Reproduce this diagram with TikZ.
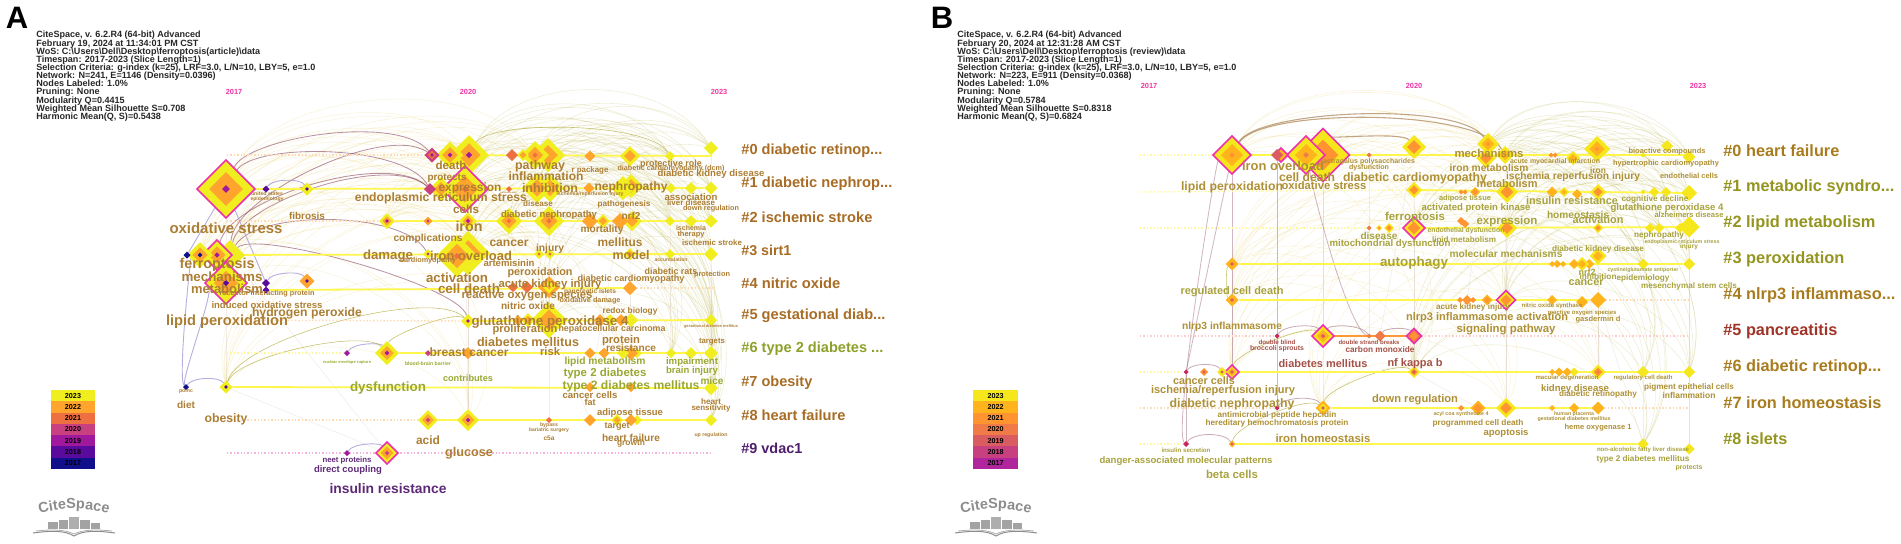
\documentclass[tikz,border=0pt]{standalone}
\usepackage{fontspec}
\usepackage{graphicx}
\setmainfont{Liberation Sans}
\usetikzlibrary{calc,shapes.geometric,decorations.text}
\pgfdeclarelayer{back}
\pgfsetlayers{back,main}

\definecolor{y23}{HTML}{F0EE1E}
\definecolor{o22}{HTML}{FFA42C}
\definecolor{r21}{HTML}{EE7040}
\definecolor{p20}{HTML}{C84080}
\definecolor{m19}{HTML}{A0189C}
\definecolor{v18}{HTML}{5A0A9C}
\definecolor{n17}{HTML}{10108C}
\definecolor{by23}{HTML}{F6E61C}
\definecolor{bo22}{HTML}{FFB41E}
\definecolor{bo21}{HTML}{FF9430}
\definecolor{br20}{HTML}{F07A48}
\definecolor{br19}{HTML}{D85C60}
\definecolor{bp18}{HTML}{C84080}
\definecolor{bm17}{HTML}{B0249C}
\definecolor{crim}{HTML}{C8285C}
\definecolor{hubring}{HTML}{EE30B0}
\definecolor{kwbrown}{HTML}{AC7E34}
\definecolor{kwgreen}{HTML}{9AA832}
\definecolor{kwpurple}{HTML}{5E2A78}
\definecolor{kwgold}{HTML}{AE9036}
\definecolor{kwolive}{HTML}{A8A23E}
\definecolor{kwred}{HTML}{A45048}
\definecolor{logogrey}{HTML}{8C8C8C}
\definecolor{rowbrown}{HTML}{A86C24}
\definecolor{rowgreen}{HTML}{8DA02A}
\definecolor{rowpurple}{HTML}{4E1E6C}
\definecolor{rowgold}{HTML}{A87C1E}
\definecolor{rowolive}{HTML}{949420}
\definecolor{rowred}{HTML}{A03428}
\definecolor{edgemv}{HTML}{8A4A68}
\definecolor{edgeli}{HTML}{A8A0D8}
\definecolor{edgebr}{HTML}{B08A60}

\newcommand{\infofont}{\bfseries\fontsize{4.53}{4.07}\selectfont\lineskiplimit=-5pt\relax}
\tikzset{
  dmd/.style={shape=diamond,aspect=1,inner sep=0pt,outer sep=0pt},
  ring/.style={draw=hubring,line width=.75pt},
  kw/.style={inner sep=0pt,font=\bfseries},
  kwa/.style={kw,text=kwbrown},
  kwg/.style={kw,text=kwgreen},
  kwp/.style={kw,text=kwpurple},
  kwb/.style={kw,text=kwgold},
  kwo/.style={kw,text=kwolive},
  kwr/.style={kw,text=kwred},
  rowlab/.style={kw,anchor=west},
  yearlab/.style={inner sep=0pt,font=\bfseries\fontsize{3.7}{4}\selectfont,text=magenta!80!white},
  infotxt/.style={inner sep=0pt,anchor=north west,align=left,text=black!85,font=\infofont},
  lgbox/.style={inner sep=0pt,minimum height=5.65pt,font=\bfseries\fontsize{3.6}{4}\selectfont},
  liverow/.style={draw=yellow!70!white,line width=.9pt},
  deadrow/.style={draw=#1,line width=.7pt,dash pattern=on .7pt off 1pt},
  edgetan/.style={draw=brown!55!yellow!70!white,line width=.3pt,opacity=.22},
  edgeolive/.style={draw=olive!70!white,line width=.3pt,opacity=.2},
  edgegrey/.style={draw=black!30!brown!40!white,line width=.3pt,opacity=.28},
  edgemauve/.style={draw=edgemv,line width=.42pt,opacity=.6},
  edgelilac/.style={draw=edgeli,line width=.45pt,opacity=.85},
  edgebrown/.style={draw=edgebr,line width=.55pt,opacity=.75},
  arcto/.style={to path={.. controls ($(\tikztostart)!#1!60:(\tikztotarget)$)
    and ($(\tikztotarget)!#1!-60:(\tikztostart)$) .. (\tikztotarget)}},
  citelogo/.pic={
    \path[decorate,decoration={text along path,text align=center,
      text={|\bfseries\fontsize{7.2}{8}\selectfont\color{logogrey}|CiteSpace}}]
      (-36,-16) .. controls (-14,-23) and (14,-23) .. (36,-16);
    \fill[logogrey!80] (-26,-8) rectangle (-16,-1);
    \fill[logogrey!80] (-15,-10) rectangle (-6,-1);
    \fill[logogrey!70] (-5,-13) rectangle (5,-1);
    \fill[logogrey!80] (6,-10) rectangle (16,-1);
    \fill[logogrey!80] (17,-7) rectangle (26,-1);
    \draw[logogrey,line width=.5pt] (-41,3) .. controls (-20,0) and (-8,1) .. (0,6)
      .. controls (8,1) and (20,0) .. (41,3);
    \draw[logogrey!70,line width=.4pt] (-38,1) .. controls (-20,-1) and (-8,0) .. (0,4)
      .. controls (8,0) and (20,-1) .. (38,1);
  }
}
\newdimen\pxu
\pxu=0.5pt
\newcommand{\fitw}[2]{\resizebox{#1\pxu}{!}{#2}}
% [ring] name x y width outer mid core
\newcommand{\kwnode}[8][]{%
  \node (#2) [dmd,fill=#6,minimum size=#5*0.5pt,#1] at (#3,#4) {};
  \node (#2m) [dmd,fill=#7,minimum size=#5*0.29pt] at (#2) {};
  \node (#2c) [dmd,fill=#8,minimum size=(2.5+0.09*#5)*0.5pt] at (#2) {};
}

\begin{document}
\begin{tikzpicture}[x=0.5pt,y=-0.5pt]
  \useasboundingbox (0,0) rectangle (1901,543);

  % panel A head
  \node (a_title) [inner sep=0pt,font=\bfseries\fontsize{15.5}{16}\selectfont] at (17,18) {A};
  \node (a_info) [infotxt] at (36,31) {CiteSpace, v. 6.2.R4 (64-bit) Advanced\\
    February 19, 2024 at 11:34:01 PM CST\\
    WoS: C:\textbackslash Users\textbackslash Dell\textbackslash Desktop\textbackslash ferroptosis(article)\textbackslash data\\
    Timespan: 2017-2023 (Slice Length=1)\\
    Selection Criteria: g-index (k=25), LRF=3.0, L/N=10, LBY=5, e=1.0\\
    Network: N=241, E=1146 (Density=0.0396)\\
    Nodes Labeled: 1.0\%\\
    Pruning: None\\
    Modularity Q=0.4415\\
    Weighted Mean Silhouette S=0.708\\
    Harmonic Mean(Q, S)=0.5438};
  \node (a_y17) [yearlab] at (234,92) {2017};
  \node (a_y20) [yearlab] at (468,92) {2020};
  \node (a_y23) [yearlab] at (719,92) {2023};

  % panel A legend
  \foreach \yr/\col [count=\i from 0] in {2023/y23,2022/o22,2021/r21,2020/p20,2019/m19,2018/v18,2017/n17}
    \node (a_lg\yr) [lgbox,fill=\col,minimum width=22pt] at (73,395.6+11.3*\i) {\yr};
  \pic (a_logo) at (74,530) {citelogo};

  % panel A row 0
  \coordinate (a0s) at (227,155);
  \coordinate (a0z) at (712,156);
  \kwnode{a0k}{711}{148}{14}{y23}{none}{none}
  \kwnode{a0j}{670}{156}{10}{y23}{none}{none}
  \kwnode{a0i}{630}{156}{20}{y23}{o22}{o22}
  \kwnode{a0h}{590}{156}{11}{o22}{none}{none}
  \kwnode{a0g}{548}{155}{34}{y23}{o22}{none}
  \kwnode{a0f}{535}{155}{28}{y23}{o22}{r21}
  \kwnode{a0e}{523}{155}{12}{y23}{o22}{none}
  \kwnode{a0d}{512}{155}{12}{r21}{none}{none}
  \kwnode{a0c}{469}{155}{40}{y23}{o22}{m19}
  \kwnode{a0b}{450}{155}{27}{y23}{o22}{m19}
  \kwnode{a0a}{432}{155}{15}{p20}{r21}{m19}
  % panel A row 1
  \kwnode{a1o}{711}{188}{13}{y23}{none}{none}
  \kwnode{a1n}{691}{188}{12}{y23}{none}{none}
  \kwnode{a1m}{671}{188}{10}{y23}{none}{none}
  \kwnode{a1l}{631}{186}{24}{y23}{o22}{none}
  \kwnode{a1k}{623}{188}{24}{y23}{none}{none}
  \kwnode{a1j}{589}{188}{11}{o22}{none}{none}
  \kwnode{a1i}{550}{188}{28}{y23}{o22}{none}
  \kwnode{a1h}{537}{188}{30}{y23}{o22}{none}
  \kwnode{a1g}{509}{189}{6}{r21}{none}{none}
  \kwnode[ring]{a1f}{465}{189}{46}{y23}{o22}{r21}
  \kwnode{a1e}{441}{189}{24}{y23}{o22}{none}
  \kwnode{a1d}{430}{189}{12}{p20}{none}{none}
  \kwnode{a1c}{307}{189}{13}{y23}{none}{v18}
  \kwnode{a1b}{266}{189}{7}{v18}{none}{none}
  \kwnode[ring]{a1a}{226}{189}{58}{y23}{o22}{m19}
  % panel A row 2
  \coordinate (a2s) at (227,221);
  \kwnode{a2l}{711}{221}{13}{y23}{none}{none}
  \kwnode{a2k}{691}{221}{12}{y23}{none}{none}
  \kwnode{a2j}{670}{221}{10}{y23}{none}{none}
  \kwnode{a2i}{632}{221}{20}{y23}{o22}{o22}
  \kwnode{a2h}{620}{221}{16}{o22}{none}{none}
  \kwnode{a2g}{603}{221}{14}{y23}{o22}{none}
  \kwnode{a2f}{590}{221}{16}{o22}{none}{none}
  \kwnode{a2e}{549}{221}{30}{y23}{o22}{r21}
  \kwnode{a2d}{509}{221}{26}{y23}{o22}{r21}
  \kwnode{a2c}{468}{221}{18}{y23}{o22}{m19}
  \kwnode{a2b}{428}{221}{9}{o22}{none}{p20}
  \kwnode{a2a}{387}{221}{16}{y23}{o22}{m19}
  % panel A row 3
  \kwnode{a3l}{711}{254}{14}{y23}{none}{none}
  \kwnode{a3k}{670}{254}{10}{y23}{none}{none}
  \kwnode{a3j}{630}{254}{12}{y23}{o22}{none}
  \kwnode{a3i}{550}{254}{10}{y23}{none}{r21}
  \kwnode{a3h}{539}{254}{10}{y23}{none}{r21}
  \kwnode{a3g}{468}{253}{44}{y23}{o22}{none}
  \kwnode{a3f}{457}{256}{42}{y23}{o22}{r21}
  \kwnode{a3e}{428}{254}{10}{y23}{none}{p20}
  \kwnode{a3d}{230}{255}{30}{y23}{none}{none}
  \kwnode[ring]{a3c}{217}{255}{30}{y23}{o22}{m19}
  \kwnode{a3b}{200}{255}{26}{y23}{o22}{n17}
  \kwnode{a3a}{187}{255}{7}{n17}{none}{none}
  % panel A row 4
  \coordinate (a4z) at (712,288);
  \kwnode{a4h}{630}{288}{14}{o22}{none}{none}
  \kwnode{a4g}{549}{287}{22}{o22}{y23}{o22}
  \kwnode{a4f}{527}{287}{12}{r21}{none}{none}
  \kwnode{a4e}{513}{287}{10}{r21}{none}{none}
  \kwnode{a4d}{307}{281}{15}{o22}{none}{v18}
  \kwnode{a4c}{266}{290}{7}{v18}{none}{none}
  \kwnode{a4b}{266}{283}{8}{v18}{none}{none}
  \kwnode[ring]{a4a}{226}{283}{42}{y23}{o22}{v18}
  % panel A row 5
  \coordinate (a5s) at (227,320);
  \kwnode{a5i}{711}{320}{12}{y23}{none}{none}
  \kwnode{a5h}{631}{320}{14}{y23}{none}{none}
  \kwnode{a5g}{621}{320}{12}{o22}{none}{none}
  \kwnode{a5f}{610}{320}{12}{y23}{none}{none}
  \kwnode{a5e}{600}{320}{12}{o22}{none}{none}
  \kwnode{a5d}{549}{320}{36}{y23}{o22}{o22}
  \kwnode{a5c}{528}{320}{14}{y23}{o22}{none}
  \kwnode{a5b}{518}{320}{10}{o22}{none}{none}
  \kwnode{a5a}{468}{321}{14}{y23}{none}{m19}
  % panel A row 6
  \coordinate (a6s) at (227,353);
  \kwnode{a6l}{711}{353}{14}{y23}{none}{none}
  \kwnode{a6k}{691}{353}{12}{y23}{none}{none}
  \kwnode{a6j}{671}{353}{10}{y23}{none}{none}
  \kwnode{a6i}{637}{353}{10}{y23}{none}{none}
  \kwnode{a6h}{631}{353}{14}{o22}{none}{none}
  \kwnode{a6g}{623}{353}{12}{y23}{none}{none}
  \kwnode{a6f}{604}{353}{11}{o22}{none}{none}
  \kwnode{a6e}{590}{353}{11}{o22}{none}{none}
  \kwnode{a6d}{468}{353}{12}{o22}{none}{none}
  \kwnode{a6c}{428}{353}{6}{p20}{none}{none}
  \kwnode{a6b}{387}{353}{24}{y23}{o22}{m19}
  \kwnode{a6a}{347}{353}{6}{m19}{none}{none}
  % panel A row 7
  \kwnode{a7e}{711}{388}{14}{y23}{none}{none}
  \kwnode{a7d}{631}{387}{10}{o22}{none}{none}
  \kwnode{a7c}{590}{387}{10}{o22}{none}{none}
  \kwnode{a7b}{226}{387}{13}{y23}{none}{v18}
  \kwnode{a7a}{186}{387}{6}{n17}{none}{none}
  % panel A row 8
  \coordinate (a8s) at (227,420);
  \kwnode{a8h}{711}{420}{12}{y23}{none}{none}
  \kwnode{a8g}{637}{420}{10}{y23}{none}{none}
  \kwnode{a8f}{631}{420}{12}{o22}{none}{none}
  \kwnode{a8e}{617}{420}{12}{y23}{o22}{none}
  \kwnode{a8d}{590}{420}{12}{o22}{none}{none}
  \kwnode{a8c}{549}{420}{6}{r21}{none}{none}
  \kwnode{a8b}{468}{420}{22}{y23}{o22}{m19}
  \kwnode{a8a}{428}{420}{20}{y23}{o22}{p20}
  % panel A row 9
  \coordinate (a9s) at (227,453);
  \coordinate (a9z) at (712,453);
  \kwnode[ring]{a9b}{387}{453}{22}{y23}{o22}{p20}
  \kwnode{a9a}{347}{453}{6}{m19}{none}{none}

  \begin{pgfonlayer}{back}
    \foreach \a in {a1a,a3d,a3b,a4a,a7b,a2a}
      \foreach \b in {a0c,a0f,a1f,a1h,a2d,a2e,a3g,a3h,a5d,a6g,a8b}
        \draw[edgetan] (\a) to[arcto=.34] (\b);
    \foreach \a in {a0c,a1f,a0f,a3g,a2d,a2e,a5d,a1h}
      \foreach \b in {a0j,a0k,a1m,a1o,a2j,a2l,a3l,a5i,a6l,a6j,a7e,a8h}
        \draw[edgeolive] (\a) to[arcto=.38] (\b);
    \foreach \a/\b in {a1f/a8b,a0c/a5a,a2c/a5a,a3g/a6d,a5a/a8b,a6d/a8b,a1h/a6g,a2e/a8c,a0i/a3j,a3j/a6h,
      a0j/a6j,a0k/a2l,a1a/a7b,a3h/a5d,a2d/a5c,a4g/a6g,a3d/a9b,a7b/a9b,a5d/a8d,a0f/a3h,a1j/a4g,a2h/a7c,a4h/a8f,a3k/a6j,a3l/a7e}
      \draw[edgegrey] (\a) -- (\b);
    \foreach \a/\b in {a1a/a0a,a1a/a1d,a3d/a0a,a3d/a1d,a3c/a1d,a3d/a3e}
      \draw[edgemauve] (\a) to[arcto=.26] (\b);
    \draw[edgemauve] (a3d) to[arcto=.15] (a5a);
    \foreach \a/\b in {a7a/a3b,a7a/a4a}
      \draw[edgelilac] (\a) to[arcto=.08] (\b);
    \foreach \a/\b in {a7a/a7b,a1b/a1c,a4b/a4d,a9a/a9b,a6a/a6b}
      \draw[edgelilac] (\a) to[arcto=.3] (\b);
    \draw[edgelilac] (a1a) -- (a3a);
    \draw[edgelilac] (a1a) -- (a4b);
    \foreach \a/\b in {a6b/a5a,a7b/a6b,a7b/a5a,a0c/a0j}
      \draw[edgeolive,opacity=.7] (\a) to[arcto=.2] (\b);

    \draw[deadrow=orange!30!white] (a0s) -- (a0a);
    \draw[deadrow=orange!30!white] (a2s) -- (a2a);
    \draw[deadrow=orange!30!white] (a5s) -- (a5a);
    \draw[deadrow=yellow!40!white] (a6s) -- (a6a);
    \draw[deadrow=orange!30!white] (a8s) -- (a8a);
    \draw[deadrow=orange!30!white] (a4h) -- (a4z);
    \draw[deadrow=magenta!30!white] (a9s) -- (a9z);
    \draw[liverow] (a0a) -- (a0z);
    \draw[liverow] (a1a) -- (a1o);
    \draw[liverow] (a2a) -- (a2l);
    \draw[liverow] (a3a) -- (a3l);
    \draw[liverow] (a4c) -- (a4h);
    \draw[liverow] (a5a) -- (a5i);
    \draw[liverow] (a6b) -- (a6l);
    \draw[liverow] (a7b) -- (a7e);
    \draw[liverow] (a8a) -- (a8h);
  \end{pgfonlayer}

  % panel A keywords
  \node (a_oxstress) [kwa] at (226,228) {\fitw{113}{oxidative stress}};
  \node (a_fibrosis) [kwa] at (307,216) {\fitw{36}{fibrosis}};
  \node (a_ers) [kwa] at (441,198) {\fitw{172}{endoplasmic reticulum stress}};
  \node (a_death) [kwa] at (451,165) {\fitw{31}{death}};
  \node (a_protects) [kwa] at (447,178) {\fitw{39}{protects}};
  \node (a_expression) [kwa] at (470,188) {\fitw{63}{expression}};
  \node (a_cells) [kwa] at (466,209) {\fitw{26}{cells}};
  \node (a_iron) [kwa] at (469,226) {\fitw{27}{iron}};
  \node (a_complic) [kwa] at (428,239) {\fitw{69}{complications}};
  \node (a_cancer) [kwa] at (509,243) {\fitw{39}{cancer}};
  \node (a_injury) [kwa] at (550,249) {\fitw{28}{injury}};
  \node (a_damage) [kwa] at (388,256) {\fitw{50}{damage}};
  \node (a_ironover) [kwa] at (471,256) {\fitw{82}{iron overload}};
  \node (a_cardio) [kwa] at (428,261) {\fitw{56}{cardiomyopathy}};
  \node (a_artemis) [kwa] at (509,263) {\fitw{51}{artemisinin}};
  \node (a_activ) [kwa] at (457,278) {\fitw{62}{activation}};
  \node (a_celldeath) [kwa] at (469,289) {\fitw{62}{cell death}};
  \node (a_perox) [kwa] at (540,273) {\fitw{65}{peroxidation}};
  \node (a_aki) [kwa] at (550,285) {\fitw{103}{acute kidney injury}};
  \node (a_ros) [kwa] at (527,296) {\fitw{131}{reactive oxygen species}};
  \node (a_nitric) [kwa] at (528,306) {\fitw{54}{nitric oxide}};
  \node (a_gpx) [kwa] at (550,322) {\fitw{157}{glutathione peroxidase 4}};
  \node (a_prolif) [kwa] at (525,330) {\fitw{65}{proliferation}};
  \node (a_hepato) [kwa] at (612,329) {\fitw{107}{hepatocellular carcinoma}};
  \node (a_dm) [kwa] at (528,342) {\fitw{102}{diabetes mellitus}};
  \node (a_risk) [kwa] at (550,351) {\fitw{20}{risk}};
  \node (a_breast) [kwa] at (469,352) {\fitw{79}{breast cancer}};
  \node (a_protein) [kwa] at (621,341) {\fitw{38}{protein}};
  \node (a_resist) [kwa] at (631,348) {\fitw{50}{resistance}};
  \node (a_lipmet) [kwg] at (605,362) {\fitw{81}{lipid metabolism}};
  \node (a_t2d) [kwg] at (605,374) {\fitw{83}{type 2 diabetes}};
  \node (a_t2dm) [kwg] at (631,386) {\fitw{137}{type 2 diabetes mellitus}};
  \node (a_cancercells) [kwa] at (590,395) {\fitw{55}{cancer cells}};
  \node (a_fat) [kwa] at (590,402) {\fitw{11}{fat}};
  \node (a_adipose) [kwa] at (630,413) {\fitw{66}{adipose tissue}};
  \node (a_target) [kwa] at (617,427) {\fitw{25}{target}};
  \node (a_hf) [kwa] at (631,438) {\fitw{58}{heart failure}};
  \node (a_growth) [kwa] at (631,443) {\fitw{28}{growth}};
  \node (a_bypass) [kwa] at (549,425) {\fitw{18}{bypass}};
  \node (a_bariatric) [kwa] at (549,430) {\fitw{40}{bariatric surgery}};
  \node (a_c5a) [kwa] at (549,438) {\fitw{11}{c5a}};
  \node (a_upreg) [kwa] at (711,435) {\fitw{33}{up regulation}};
  \node (a_heart) [kwa] at (711,402) {\fitw{20}{heart}};
  \node (a_sens) [kwa] at (711,408) {\fitw{39}{sensitivity}};
  \node (a_mice) [kwg] at (712,381) {\fitw{23}{mice}};
  \node (a_targets) [kwa] at (712,342) {\fitw{26}{targets}};
  \node (a_impair) [kwg] at (692,362) {\fitw{52}{impairment}};
  \node (a_brain) [kwg] at (692,371) {\fitw{52}{brain injury}};
  \node (a_gdm) [kwa] at (711,326) {\fitw{54}{gestational diabetes mellitus}};
  \node (a_redox) [kwa] at (630,311) {\fitw{55}{redox biology}};
  \node (a_oxdam) [kwa] at (590,301) {\fitw{61}{oxidative damage}};
  \node (a_panc) [kwa] at (590,292) {\fitw{52}{pancreatic islets}};
  \node (a_dcm) [kwa] at (631,279) {\fitw{107}{diabetic cardiomyopathy}};
  \node (a_rats) [kwa] at (671,271) {\fitw{53}{diabetic rats}};
  \node (a_protection) [kwa] at (712,275) {\fitw{36}{protection}};
  \node (a_accum) [kwa] at (671,260) {\fitw{33}{accumulation}};
  \node (a_stroke) [kwa] at (712,243) {\fitw{60}{ischemic stroke}};
  \node (a_therapy) [kwa] at (691,235) {\fitw{27}{therapy}};
  \node (a_ischemia) [kwa] at (691,228) {\fitw{30}{ischemia}};
  \node (a_model) [kwa] at (631,255) {\fitw{37}{model}};
  \node (a_mellitus) [kwa] at (620,242) {\fitw{45}{mellitus}};
  \node (a_mortal) [kwa] at (602,230) {\fitw{43}{mortality}};
  \node (a_nrf2) [kwa] at (631,216) {\fitw{19}{nrf2}};
  \node (a_dn) [kwa] at (549,215) {\fitw{96}{diabetic nephropathy}};
  \node (a_patho) [kwa] at (624,204) {\fitw{53}{pathogenesis}};
  \node (a_disease) [kwa] at (538,204) {\fitw{30}{disease}};
  \node (a_downreg) [kwa] at (711,209) {\fitw{56}{down regulation}};
  \node (a_liver) [kwa] at (691,203) {\fitw{48}{liver disease}};
  \node (a_assoc) [kwa] at (691,197) {\fitw{53}{association}};
  \node (a_irinj) [kwa] at (590,194) {\fitw{67}{ischemia/reperfusion injury}};
  \node (a_cardiov) [kwa] at (508,193) {\fitw{16}{cardiovascular}};
  \node (a_inhib) [kwa] at (550,188) {\fitw{56}{inhibition}};
  \node (a_nephro) [kwa] at (631,187) {\fitw{73}{nephropathy}};
  \node (a_inflam) [kwa] at (546,176) {\fitw{75}{inflammation}};
  \node (a_pathway) [kwa] at (540,166) {\fitw{50}{pathway}};
  \node (a_rpack) [kwa] at (590,170) {\fitw{37}{r package}};
  \node (a_protrole) [kwa] at (671,164) {\fitw{62}{protective role}};
  \node (a_dcmfull) [kwa] at (671,169) {\fitw{107}{diabetic cardiomyopathy (dcm)}};
  \node (a_dkd) [kwa] at (711,174) {\fitw{107}{diabetic kidney disease}};
  \node (a_ferro) [kwa] at (217,265) {\fitw{75}{ferroptosis}};
  \node (a_usa) [kwa] at (267,194) {\fitw{32}{united states}};
  \node (a_epid) [kwa] at (267,199) {\fitw{33}{epidemiology}};
  \node (a_mech) [kwa] at (222,277) {\fitw{81}{mechanisms}};
  \node (a_metab) [kwa] at (227,289) {\fitw{72}{metabolism}};
  \node (a_rip) [kwa] at (267,294) {\fitw{95}{receptor interacting protein}};
  \node (a_induced) [kwa] at (267,305) {\fitw{111}{induced oxidative stress}};
  \node (a_hydro) [kwa] at (307,313) {\fitw{110}{hydrogen peroxide}};
  \node (a_lipper) [kwa] at (227,322) {\fitw{122}{lipid peroxidation}};
  \node (a_nuclear) [kwg] at (347,362) {\fitw{48}{nuclear envelope rupture}};
  \node (a_bbb) [kwg] at (428,364) {\fitw{46}{blood-brain barrier}};
  \node (a_contrib) [kwg] at (468,378) {\fitw{50}{contributes}};
  \node (a_dysf) [kwg] at (388,388) {\fitw{76}{dysfunction}};
  \node (a_pomc) [kwa] at (186,392) {\fitw{14}{pomc}};
  \node (a_diet) [kwa] at (186,405) {\fitw{18}{diet}};
  \node (a_obesity) [kwa] at (226,419) {\fitw{43}{obesity}};
  \node (a_acid) [kwa] at (428,440) {\fitw{24}{acid}};
  \node (a_glucose) [kwa] at (469,453) {\fitw{48}{glucose}};
  \node (a_neet) [kwp] at (347,460) {\fitw{49}{neet proteins}};
  \node (a_direct) [kwp] at (348,470) {\fitw{68}{direct coupling}};
  \node (a_insres) [kwp] at (388,489) {\fitw{117}{insulin resistance}};

  % panel A cluster names
  \node (a_c0) [rowlab,text=rowbrown] at (741,151) {\fitw{141}{\#0 diabetic retinop...}};
  \node (a_c1) [rowlab,text=rowbrown] at (741,184) {\fitw{151}{\#1 diabetic nephrop...}};
  \node (a_c2) [rowlab,text=rowbrown] at (741,217) {\fitw{131}{\#2 ischemic stroke}};
  \node (a_c3) [rowlab,text=rowbrown] at (741,250) {\fitw{50}{\#3 sirt1}};
  \node (a_c4) [rowlab,text=rowbrown] at (741,283) {\fitw{99}{\#4 nitric oxide}};
  \node (a_c5) [rowlab,text=rowbrown] at (741,316) {\fitw{144}{\#5 gestational diab...}};
  \node (a_c6) [rowlab,text=rowgreen] at (741,349) {\fitw{142}{\#6 type 2 diabetes ...}};
  \node (a_c7) [rowlab,text=rowbrown] at (741,383) {\fitw{71}{\#7 obesity}};
  \node (a_c8) [rowlab,text=rowbrown] at (741,415) {\fitw{104}{\#8 heart failure}};
  \node (a_c9) [rowlab,text=rowpurple] at (741,448) {\fitw{61}{\#9 vdac1}};

  % panel B head
  \node (b_title) [inner sep=0pt,font=\bfseries\fontsize{15.5}{16}\selectfont] at (942,18) {B};
  \node (b_info) [infotxt] at (957,31) {CiteSpace, v. 6.2.R4 (64-bit) Advanced\\
    February 20, 2024 at 12:31:28 AM CST\\
    WoS: C:\textbackslash Users\textbackslash Dell\textbackslash Desktop\textbackslash ferroptosis (review)\textbackslash data\\
    Timespan: 2017-2023 (Slice Length=1)\\
    Selection Criteria: g-index (k=25), LRF=3.0, L/N=10, LBY=5, e=1.0\\
    Network: N=223, E=911 (Density=0.0368)\\
    Nodes Labeled: 1.0\%\\
    Pruning: None\\
    Modularity Q=0.5784\\
    Weighted Mean Silhouette S=0.8318\\
    Harmonic Mean(Q, S)=0.6824};
  \node (b_y17) [yearlab] at (1149,86) {2017};
  \node (b_y20) [yearlab] at (1414,86) {2020};
  \node (b_y23) [yearlab] at (1698,86) {2023};

  % panel B legend
  \foreach \yr/\col [count=\i from 0] in {2023/by23,2022/bo22,2021/bo21,2020/br20,2019/br19,2018/bp18,2017/bm17}
    \node (b_lg\yr) [lgbox,fill=\col,minimum width=22.5pt] at (995.5,395.6+11.3*\i) {\yr};
  \pic (b_logo) at (996,530) {citelogo};

  % panel B row 0
  \coordinate (b0s) at (1140,155);
  \coordinate (b0z) at (1693,155);
  \kwnode{b0q}{1689}{157}{13}{by23}{none}{none}
  \kwnode{b0p}{1667}{146}{12}{by23}{none}{none}
  \kwnode{b0o}{1643}{155}{5}{by23}{none}{none}
  \kwnode{b0n}{1597}{149}{26}{by23}{bo22}{bo21}
  \kwnode{b0m}{1573}{158}{14}{by23}{bo22}{none}
  \kwnode{b0l}{1555}{155}{5}{bo21}{none}{none}
  \kwnode{b0k}{1551}{155}{5}{bo21}{none}{none}
  \kwnode{b0j}{1505}{155}{18}{by23}{bo22}{none}
  \kwnode{b0i}{1486}{158}{20}{by23}{bo21}{bo21}
  \kwnode{b0h}{1488}{144}{22}{by23}{bo22}{bo21}
  \kwnode{b0g}{1414}{147}{24}{by23}{bo21}{bo21}
  \kwnode{b0f}{1369}{155}{5}{br20}{none}{none}
  \kwnode[ring]{b0e}{1323}{155}{53}{by23}{bo21}{bo21}
  \kwnode[ring]{b0d}{1306}{155}{38}{by23}{bo22}{br20}
  \kwnode[ring]{b0c}{1281}{155}{14}{bo22}{none}{none}
  \kwnode{b0b}{1277}{155}{12}{br19}{none}{none}
  \kwnode[ring]{b0a}{1232}{155}{38}{by23}{bo22}{bo21}
  % panel B row 1
  \coordinate (b1s) at (1140,192);
  \kwnode{b1m}{1689}{193}{16}{by23}{none}{none}
  \kwnode{b1l}{1666}{192}{10}{by23}{none}{none}
  \kwnode{b1k}{1654}{192}{10}{by23}{none}{none}
  \kwnode{b1j}{1643}{192}{5}{by23}{none}{none}
  \kwnode{b1i}{1598}{192}{16}{by23}{bo21}{bo21}
  \kwnode{b1h}{1577}{194}{10}{bo22}{none}{none}
  \kwnode{b1g}{1564}{192}{10}{by23}{bo22}{none}
  \kwnode{b1f}{1552}{192}{11}{bo22}{none}{none}
  \kwnode{b1e}{1507}{192}{22}{by23}{bo21}{bo21}
  \kwnode{b1d}{1475}{192}{10}{bo22}{bo21}{none}
  \kwnode{b1c}{1465}{192}{5}{bo21}{none}{none}
  \kwnode{b1b}{1461}{192}{5}{bo21}{none}{none}
  \kwnode{b1a}{1414}{190}{16}{by23}{bo21}{bo21}
  % panel B row 2
  \coordinate (b2s) at (1140,228);
  \kwnode{b2l}{1689}{227}{21}{by23}{none}{none}
  \kwnode{b2k}{1680}{228}{10}{by23}{none}{none}
  \kwnode{b2j}{1659}{228}{10}{by23}{none}{none}
  \kwnode{b2i}{1650}{228}{10}{by23}{none}{none}
  \kwnode{b2h}{1598}{228}{10}{by23}{bo21}{bo21}
  \kwnode{b2g}{1507}{228}{20}{by23}{bo21}{bo21}
  \kwnode{b2f}{1465}{224}{8}{bo21}{none}{none}
  \kwnode{b2e}{1461}{221}{8}{bo21}{none}{none}
  \kwnode[ring]{b2d}{1414}{228}{22}{by23}{bo21}{bo21}
  \kwnode{b2c}{1389}{228}{10}{by23}{bo21}{none}
  \kwnode{b2b}{1379}{228}{6}{by23}{bo21}{none}
  \kwnode{b2a}{1369}{228}{5}{br20}{none}{none}
  % panel B row 3
  \kwnode{b3j}{1689}{264}{12}{by23}{none}{none}
  \kwnode{b3i}{1643}{264}{11}{by23}{none}{none}
  \kwnode{b3h}{1598}{256}{17}{by23}{bo22}{none}
  \kwnode{b3g}{1589}{264}{10}{bo22}{none}{none}
  \kwnode{b3f}{1582}{264}{14}{by23}{bo22}{none}
  \kwnode{b3e}{1574}{264}{10}{bo22}{none}{none}
  \kwnode{b3d}{1563}{264}{6}{bo22}{none}{none}
  \kwnode{b3c}{1557}{264}{8}{bo22}{none}{none}
  \kwnode{b3b}{1552}{264}{6}{bo22}{none}{none}
  \kwnode{b3a}{1232}{264}{13}{bo22}{none}{br19}
  % panel B row 4
  \coordinate (b4z) at (1689,300);
  \kwnode{b4i}{1598}{300}{16}{bo22}{none}{none}
  \kwnode{b4h}{1582}{302}{12}{bo22}{none}{none}
  \kwnode{b4g}{1552}{300}{10}{bo22}{none}{none}
  \kwnode[ring]{b4f}{1506}{300}{19}{by23}{bo21}{bo21}
  \kwnode{b4e}{1487}{300}{11}{bo22}{bo21}{none}
  \kwnode{b4d}{1473}{300}{6}{bo21}{none}{none}
  \kwnode{b4c}{1467}{300}{10}{bo21}{none}{none}
  \kwnode{b4b}{1460}{300}{6}{bo21}{none}{none}
  \kwnode{b4a}{1232}{300}{13}{bo22}{none}{br19}
  % panel B row 5
  \coordinate (b5s) at (1140,336);
  \coordinate (b5z) at (1689,336);
  \kwnode[ring]{b5e}{1414}{336}{15}{br20}{bo21}{none}
  \kwnode{b5d}{1380}{336}{11}{br20}{none}{none}
  \kwnode{b5c}{1369}{336}{5}{br20}{none}{none}
  \kwnode[ring]{b5b}{1323}{336}{22}{by23}{bo22}{br19}
  \kwnode{b5a}{1277}{336}{5}{crim}{none}{none}
  % panel B row 6
  \coordinate (b6s) at (1140,372);
  \kwnode{b6l}{1689}{372}{12}{by23}{none}{none}
  \kwnode{b6k}{1643}{372}{12}{by23}{none}{none}
  \kwnode{b6j}{1598}{372}{15}{by23}{bo21}{br20}
  \kwnode{b6i}{1574}{372}{9}{by23}{none}{none}
  \kwnode{b6h}{1567}{372}{9}{bo22}{none}{none}
  \kwnode{b6g}{1559}{372}{9}{bo22}{none}{none}
  \kwnode{b6f}{1552}{372}{6}{bo22}{none}{none}
  \kwnode{b6e}{1414}{372}{12}{by23}{bo21}{br19}
  \kwnode[ring]{b6d}{1232}{372}{14}{by23}{bo22}{br19}
  \kwnode{b6c}{1222}{372}{10}{by23}{none}{br19}
  \kwnode{b6b}{1204}{372}{8}{bo21}{none}{br19}
  \kwnode{b6a}{1186}{372}{5}{crim}{none}{none}
  % panel B row 7
  \coordinate (b7s) at (1140,408);
  \coordinate (b7z) at (1689,408);
  \kwnode{b7h}{1598}{408}{13}{bo22}{none}{none}
  \kwnode{b7g}{1574}{408}{10}{bo22}{none}{none}
  \kwnode{b7f}{1552}{408}{6}{bo22}{none}{none}
  \kwnode{b7e}{1506}{408}{20}{by23}{bo21}{bo21}
  \kwnode{b7d}{1478}{408}{15}{bo22}{bo21}{bo21}
  \kwnode{b7c}{1461}{408}{6}{bo21}{none}{none}
  \kwnode{b7b}{1323}{408}{15}{bo22}{by23}{br19}
  \kwnode{b7a}{1277}{408}{5}{crim}{none}{none}
  % panel B row 8
  \coordinate (b8s) at (1140,444);
  \kwnode{b8d}{1689}{449}{11}{by23}{none}{none}
  \kwnode{b8c}{1643}{444}{11}{by23}{none}{none}
  \kwnode{b8b}{1232}{444}{7}{bo22}{none}{br19}
  \kwnode{b8a}{1186}{444}{6}{crim}{none}{none}

  \begin{pgfonlayer}{back}
    \foreach \a in {b0a,b0e,b3a,b4a,b6d,b7b}
      \foreach \b in {b0h,b0j,b1e,b2d,b2g,b3h,b4f,b6e,b6j,b7e}
        \draw[edgetan] (\a) to[arcto=.34] (\b);
    \foreach \a in {b0h,b0j,b1e,b2d,b2g,b4f,b6e}
      \foreach \b in {b0p,b0q,b1l,b1m,b2j,b2l,b3i,b3j,b6k,b6l,b8c}
        \draw[edgeolive] (\a) to[arcto=.36] (\b);
    \foreach \a/\b in {b0e/b5b,b0e/b7b,b0f/b5c,b0g/b5d,b1a/b6e,b2d/b6e,b0n/b3h,b1e/b7e,b2g/b7e,b3h/b6j,
      b4f/b7e,b4i/b6j,b4i/b8c,b1m/b8d,b3j/b6l,b6k/b8c,b6l/b8d,b0h/b4c,b0j/b4f,b6e/b7d,b3a/b6d}
      \draw[edgegrey] (\a) -- (\b);
    \foreach \a/\b in {b0a/b0h,b0a/b0j,b0e/b0g}
      \draw[edgebrown] (\a) to[arcto=.2] (\b);
    \foreach \a/\b in {b0b/b7a,b0a/b6d,b6a/b8a,b6a/b0a}
      \draw[edgemauve,opacity=.4] (\a) -- (\b);
    \draw[edgemauve,opacity=.4] (b5c) to[arcto=.12] (b0e);
    \draw[edgemauve,opacity=.4] (b8a) to[arcto=.06] (b0a);
    \foreach \a/\b in {b5a/b5b,b5b/b5c,b5d/b5e,b6a/b6c,b7a/b7b,b8a/b8b}
      \draw[edgemauve,opacity=.45] (\a) to[arcto=.3] (\b);
    \foreach \a/\b in {b6d/b5b,b8b/b7b,b4a/b3a,b7b/b6e}
      \draw[edgeolive,opacity=.7] (\a) to[arcto=.2] (\b);

    \draw[deadrow=yellow!40!white] (b0s) -- (b0a);
    \draw[deadrow=yellow!40!white] (b1s) -- (b1a);
    \draw[deadrow=yellow!40!white] (b2s) -- (b2a);
    \draw[deadrow=orange!30!white] (b4i) -- (b4z);
    \draw[deadrow=red!20!white] (b5s) -- (b5a);
    \draw[deadrow=red!20!white] (b5e) -- (b5z);
    \draw[deadrow=yellow!40!white] (b6s) -- (b6a);
    \draw[deadrow=orange!30!white] (b7s) -- (b7a);
    \draw[deadrow=orange!30!white] (b7h) -- (b7z);
    \draw[deadrow=yellow!40!white] (b8s) -- (b8a);
    \draw[liverow] (b0a) -- (b0z);
    \draw[liverow] (b1a) -- (b1m);
    \draw[liverow] (b2d) -- (b2l);
    \draw[liverow] (b3a) -- (b3j);
    \draw[liverow] (b4a) -- (b4i);
    \draw[draw=orange!80!white,line width=.8pt] (b5b) -- (b5e);
    \draw[liverow] (b6d) -- (b6l);
    \draw[liverow] (b7b) -- (b7h);
    \draw[liverow] (b8b) -- (b8c);
  \end{pgfonlayer}

  % panel B keywords
  \node (b_ironover) [kwb] at (1283,166) {\fitw{82}{iron overload}};
  \node (b_celldeath) [kwb] at (1307,177) {\fitw{56}{cell death}};
  \node (b_oxstress) [kwb] at (1324,185) {\fitw{85}{oxidative stress}};
  \node (b_lipper) [kwb] at (1232,187) {\fitw{102}{lipid peroxidation}};
  \node (b_astra) [kwb] at (1369,162) {\fitw{92}{astragalus polysaccharides}};
  \node (b_dysf) [kwb] at (1369,168) {\fitw{40}{dysfunction}};
  \node (b_dcm) [kwb] at (1415,178) {\fitw{144}{diabetic cardiomyopathy}};
  \node (b_ferro) [kwo] at (1415,218) {\fitw{60}{ferroptosis}};
  \node (b_disease) [kwo] at (1379,236) {\fitw{37}{disease}};
  \node (b_mito) [kwo] at (1390,244) {\fitw{121}{mitochondrial dysfunction}};
  \node (b_autoph) [kwo] at (1414,263) {\fitw{68}{autophagy}};
  \node (b_mech) [kwb] at (1489,153) {\fitw{69}{mechanisms}};
  \node (b_ironmet) [kwb] at (1489,168) {\fitw{79}{iron metabolism}};
  \node (b_ami) [kwb] at (1555,162) {\fitw{90}{acute myocardial infarction}};
  \node (b_irinj) [kwb] at (1573,177) {\fitw{134}{ischemia reperfusion injury}};
  \node (b_metab) [kwb] at (1507,184) {\fitw{61}{metabolism}};
  \node (b_iron) [kwb] at (1598,170) {\fitw{16}{iron}};
  \node (b_hcm) [kwb] at (1666,164) {\fitw{106}{hypertrophic cardiomyopathy}};
  \node (b_endocell) [kwb] at (1689,176) {\fitw{58}{endothelial cells}};
  \node (b_bioact) [kwb] at (1667,152) {\fitw{77}{bioactive compounds}};
  \node (b_adipose) [kwo] at (1465,199) {\fitw{52}{adipose tissue}};
  \node (b_insres) [kwo] at (1572,201) {\fitw{92}{insulin resistance}};
  \node (b_cogn) [kwo] at (1655,199) {\fitw{67}{cognitive decline}};
  \node (b_apk) [kwo] at (1476,208) {\fitw{109}{activated protein kinase}};
  \node (b_gpx) [kwo] at (1667,208) {\fitw{113}{glutathione peroxidase 4}};
  \node (b_homeo) [kwo] at (1578,215) {\fitw{62}{homeostasis}};
  \node (b_alz) [kwo] at (1689,215) {\fitw{69}{alzheimers disease}};
  \node (b_activ) [kwo] at (1598,220) {\fitw{51}{activation}};
  \node (b_expr) [kwo] at (1507,222) {\fitw{61}{expression}};
  \node (b_nephro) [kwo] at (1659,235) {\fitw{50}{nephropathy}};
  \node (b_endodys) [kwo] at (1466,231) {\fitw{77}{endothelial dysfunction}};
  \node (b_lipmet) [kwo] at (1464,240) {\fitw{64}{lipid metabolism}};
  \node (b_erstress) [kwo] at (1682,242) {\fitw{75}{endoplasmic reticulum stress}};
  \node (b_injury) [kwo] at (1689,247) {\fitw{18}{injury}};
  \node (b_dkd) [kwo] at (1598,249) {\fitw{92}{diabetic kidney disease}};
  \node (b_molmech) [kwo] at (1506,254) {\fitw{113}{molecular mechanisms}};
  \node (b_nrf2) [kwo] at (1587,272) {\fitw{17}{nrf2}};
  \node (b_inhib) [kwo] at (1598,277) {\fitw{37}{inhibition}};
  \node (b_cancer) [kwo] at (1586,283) {\fitw{35}{cancer}};
  \node (b_cyst) [kwo] at (1643,270) {\fitw{71}{cystine/glutamate antiporter}};
  \node (b_epid) [kwo] at (1643,278) {\fitw{53}{epidemiology}};
  \node (b_msc) [kwo] at (1689,286) {\fitw{96}{mesenchymal stem cells}};
  \node (b_aki) [kwb] at (1473,307) {\fitw{74}{acute kidney injury}};
  \node (b_nos) [kwb] at (1552,306) {\fitw{61}{nitric oxide synthase}};
  \node (b_ros) [kwb] at (1582,313) {\fitw{69}{reactive oxygen species}};
  \node (b_gasd) [kwb] at (1598,320) {\fitw{45}{gasdermin d}};
  \node (b_nlrpact) [kwb] at (1487,318) {\fitw{162}{nlrp3 inflammasome activation}};
  \node (b_signal) [kwb] at (1506,330) {\fitw{99}{signaling pathway}};
  \node (b_regcd) [kwo] at (1232,292) {\fitw{103}{regulated cell death}};
  \node (b_nlrp) [kwb] at (1232,327) {\fitw{100}{nlrp3 inflammasome}};
  \node (b_dblind) [kwr] at (1277,342) {\fitw{37}{double blind}};
  \node (b_brocc) [kwr] at (1277,349) {\fitw{54}{broccoli sprouts}};
  \node (b_dsb) [kwr] at (1369,342) {\fitw{61}{double strand breaks}};
  \node (b_co) [kwr] at (1380,350) {\fitw{69}{carbon monoxide}};
  \node (b_dm) [kwr] at (1323,364) {\fitw{89}{diabetes mellitus}};
  \node (b_nfkb) [kwr] at (1415,364) {\fitw{55}{nf kappa b}};
  \node (b_cancells) [kwb] at (1204,381) {\fitw{62}{cancer cells}};
  \node (b_isch) [kwb] at (1223,391) {\fitw{144}{ischemia/reperfusion injury}};
  \node (b_dn) [kwb] at (1232,404) {\fitw{125}{diabetic nephropathy}};
  \node (b_hepc) [kwb] at (1277,415) {\fitw{119}{antimicrobial peptide hepcidin}};
  \node (b_hered) [kwb] at (1277,423) {\fitw{143}{hereditary hemochromatosis protein}};
  \node (b_ironhom) [kwb] at (1323,438) {\fitw{95}{iron homeostasis}};
  \node (b_inssec) [kwo] at (1186,450) {\fitw{49}{insulin secretion}};
  \node (b_damps) [kwo] at (1186,461) {\fitw{173}{danger-associated molecular patterns}};
  \node (b_beta) [kwo] at (1232,474) {\fitw{52}{beta cells}};
  \node (b_downreg) [kwb] at (1415,400) {\fitw{86}{down regulation}};
  \node (b_macular) [kwb] at (1567,378) {\fitw{63}{macular degeneration}};
  \node (b_regul) [kwb] at (1643,378) {\fitw{59}{regulatory cell death}};
  \node (b_kidney) [kwb] at (1575,389) {\fitw{68}{kidney disease}};
  \node (b_dr) [kwb] at (1598,394) {\fitw{78}{diabetic retinopathy}};
  \node (b_pigment) [kwb] at (1689,387) {\fitw{90}{pigment epithelial cells}};
  \node (b_inflam) [kwb] at (1689,395) {\fitw{53}{inflammation}};
  \node (b_acyl) [kwb] at (1461,414) {\fitw{55}{acyl coa synthetase 4}};
  \node (b_pcd) [kwb] at (1478,423) {\fitw{91}{programmed cell death}};
  \node (b_apop) [kwb] at (1506,433) {\fitw{45}{apoptosis}};
  \node (b_hplac) [kwb] at (1574,414) {\fitw{40}{human placenta}};
  \node (b_gdm) [kwb] at (1574,419) {\fitw{73}{gestational diabetes mellitus}};
  \node (b_heme) [kwb] at (1598,428) {\fitw{67}{heme oxygenase 1}};
  \node (b_nafld) [kwo] at (1643,450) {\fitw{92}{non-alcoholic fatty liver disease}};
  \node (b_t2dm) [kwo] at (1643,459) {\fitw{93}{type 2 diabetes mellitus}};
  \node (b_protects) [kwo] at (1689,468) {\fitw{27}{protects}};

  % panel B cluster names
  \node (b_c0) [rowlab,text=rowgold] at (1723,151) {\fitw{116}{\#0 heart failure}};
  \node (b_c1) [rowlab,text=rowolive] at (1723,187) {\fitw{171}{\#1 metabolic syndro...}};
  \node (b_c2) [rowlab,text=rowolive] at (1723,223) {\fitw{152}{\#2 lipid metabolism}};
  \node (b_c3) [rowlab,text=rowolive] at (1723,259) {\fitw{121}{\#3 peroxidation}};
  \node (b_c4) [rowlab,text=rowgold] at (1723,295) {\fitw{172}{\#4 nlrp3 inflammaso...}};
  \node (b_c5) [rowlab,text=rowred] at (1723,331) {\fitw{114}{\#5 pancreatitis}};
  \node (b_c6) [rowlab,text=rowgold] at (1723,367) {\fitw{158}{\#6 diabetic retinop...}};
  \node (b_c7) [rowlab,text=rowgold] at (1723,403) {\fitw{158}{\#7 iron homeostasis}};
  \node (b_c8) [rowlab,text=rowolive] at (1723,439) {\fitw{64}{\#8 islets}};
\end{tikzpicture}
\end{document}
